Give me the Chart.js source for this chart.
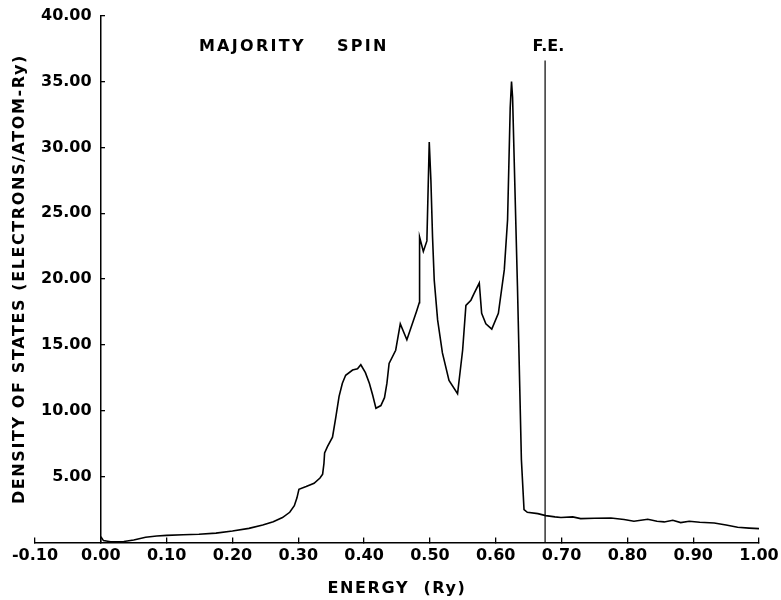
<!DOCTYPE html>
<html><head><meta charset="utf-8">
<script src="https://cdn.jsdelivr.net/npm/chart.js@4/dist/chart.umd.min.js"></script>
<style>html,body{margin:0;padding:0;background:#fff}#wrap{width:781px;height:600px}</style>
</head><body><div id="wrap"><canvas id="c" width="781" height="600"></canvas></div>
<script>
// ---- data ----
const energy = [0.000, 0.004, 0.015, 0.035, 0.050, 0.068, 0.085, 0.100, 0.125, 0.149, 0.175, 0.200, 0.225, 0.246, 0.262, 0.276, 0.287, 0.294, 0.298, 0.301, 0.312, 0.324, 0.333, 0.337, 0.339, 0.340, 0.3445, 0.352, 0.357, 0.362, 0.367, 0.372, 0.3825, 0.390, 0.395, 0.402, 0.408, 0.413, 0.418, 0.4255, 0.431, 0.4347, 0.438, 0.448, 0.455, 0.465, 0.480, 0.4838, 0.4843, 0.490, 0.4954, 0.499, 0.5015, 0.504, 0.5066, 0.5117, 0.519, 0.529, 0.542, 0.5497, 0.5547, 0.5623, 0.567, 0.575, 0.5786, 0.585, 0.594, 0.604, 0.613, 0.618, 0.622, 0.624, 0.6256, 0.633, 0.639, 0.643, 0.648, 0.664, 0.676, 0.690, 0.699, 0.717, 0.729, 0.750, 0.775, 0.795, 0.810, 0.831, 0.845, 0.856, 0.869, 0.881, 0.894, 0.910, 0.932, 0.950, 0.9675, 0.985, 1.000];
const dos    = [0.45, 0.15, 0.07, 0.08, 0.20, 0.40, 0.50, 0.55, 0.60, 0.63, 0.72, 0.88, 1.08, 1.33, 1.58, 1.90, 2.30, 2.80, 3.40, 4.05, 4.25, 4.50, 4.90, 5.20, 6.00, 6.80, 7.30, 8.00, 9.50, 11.10, 12.10, 12.70, 13.10, 13.20, 13.50, 12.90, 12.10, 11.20, 10.20, 10.40, 11.00, 12.10, 13.60, 14.60, 16.60, 15.40, 17.60, 18.20, 23.20, 22.10, 22.90, 30.40, 27.50, 23.20, 19.90, 16.90, 14.40, 12.30, 11.30, 14.60, 18.00, 18.40, 18.90, 19.70, 17.40, 16.60, 16.20, 17.40, 20.70, 24.50, 33.00, 35.00, 33.80, 19.50, 6.30, 2.50, 2.30, 2.20, 2.05, 1.95, 1.90, 1.95, 1.82, 1.85, 1.87, 1.75, 1.62, 1.77, 1.62, 1.57, 1.69, 1.52, 1.62, 1.55, 1.49, 1.33, 1.16, 1.10, 1.06];
const fermiEnergy = 0.675;
const fermiLine = [0, 36.6];
const xTickValues = [-0.1, 0.0, 0.1, 0.2, 0.3, 0.4, 0.5, 0.6, 0.7, 0.8, 0.9, 1.0];
const yTickValues = [5, 10, 15, 20, 25, 30, 35, 40];
const panelWords = ['MAJORITY', 'SPIN'];
const fermiLabel = 'F.E.';
const xTitle = 'ENERGY  (Ry)';
const yTitle = 'DENSITY OF STATES (ELECTRONS/ATOM-Ry)';

const FONT = "'DejaVu Sans', sans-serif";
const curve = energy.map((e, i) => ({x: e, y: dos[i]}));
const feLine = fermiLine.map(v => ({x: fermiEnergy, y: v}));

const spacing = {
  id: 'spacing',
  beforeDraw(chart) { chart.ctx.letterSpacing = '1.6px'; },
  beforeDatasetsDraw(chart) { chart.ctx.letterSpacing = '0px'; },
  afterDatasetsDraw(chart) {
    const {ctx, scales: {x, y}} = chart;
    ctx.save();
    ctx.fillStyle = '#000';
    ctx.font = 'bold 16px ' + FONT;
    ctx.textBaseline = 'middle';
    ctx.letterSpacing = '2.3px';
    ctx.textAlign = 'left';
    ctx.fillText(panelWords[0], x.getPixelForValue(0.149), y.getPixelForValue(37.6));
    ctx.fillText(panelWords[1], x.getPixelForValue(0.3587), y.getPixelForValue(37.6));
    ctx.letterSpacing = '0px';
    ctx.textAlign = 'center';
    ctx.fillText(fermiLabel, x.getPixelForValue(0.68), y.getPixelForValue(37.6));
    ctx.restore();
  }
};

new Chart(document.getElementById('c'), {
  type: 'line',
  data: {
    datasets: [
      {data: curve, borderColor: '#000', borderWidth: 1.6, pointRadius: 0, tension: 0, fill: false},
      {data: feLine, borderColor: '#000', borderWidth: 1.2, pointRadius: 0, tension: 0, fill: false}
    ]
  },
  options: {
    responsive: false,
    animation: false,
    devicePixelRatio: 1,
    layout: {padding: {left: 0, right: 22, top: 15, bottom: 0}},
    plugins: {legend: {display: false}, tooltip: {enabled: false}},
    scales: {
      x: {
        type: 'linear', min: -0.1, max: 1.0,
        afterBuildTicks: s => { s.ticks = xTickValues.map(v => ({value: v})); },
        afterFit: s => { s.height = 57.4; s.paddingLeft = 0; s.paddingRight = 0; },
        grid: {display: true, drawOnChartArea: false, drawTicks: true, tickLength: -5, color: '#000', lineWidth: 1.3},
        border: {display: true, color: '#000', width: 1.5},
        ticks: {z: 1, color: '#000', padding: 8.5, maxRotation: 0, autoSkip: false,
                font: {family: FONT, size: 16, weight: 'bold'},
                callback: v => Number(v).toFixed(2)},
        title: {display: true, text: xTitle, color: '#000', font: {family: FONT, size: 16, weight: 'bold'}, padding: {top: 10, bottom: 1.5}}
      },
      y: {
        position: 'left', min: 0, max: 40,
        afterBuildTicks: s => { s.ticks = yTickValues.map(v => ({value: v})); },
        afterFit: s => { s.width = 35; },
        grid: {display: false},
        border: {display: false},
        ticks: {z: 1, mirror: true, crossAlign: 'far', padding: 6, color: '#000',
                font: {family: FONT, size: 16, weight: 'bold'},
                callback: v => Number(v).toFixed(2)},
        title: {display: true, text: yTitle, color: '#000', font: {family: FONT, size: 16, weight: 'bold'}, padding: {top: 10, bottom: 0}}
      },
      y2: {
        position: {x: 0}, min: 0, max: 40,
        afterBuildTicks: s => { s.ticks = yTickValues.map(v => ({value: v})); },
        grid: {display: true, drawOnChartArea: false, drawTicks: true, tickLength: -5, color: '#000', lineWidth: 1.3},
        border: {display: true, color: '#000', width: 1.5},
        ticks: {display: false}
      }
    }
  },
  plugins: [spacing]
});
</script></body></html>
